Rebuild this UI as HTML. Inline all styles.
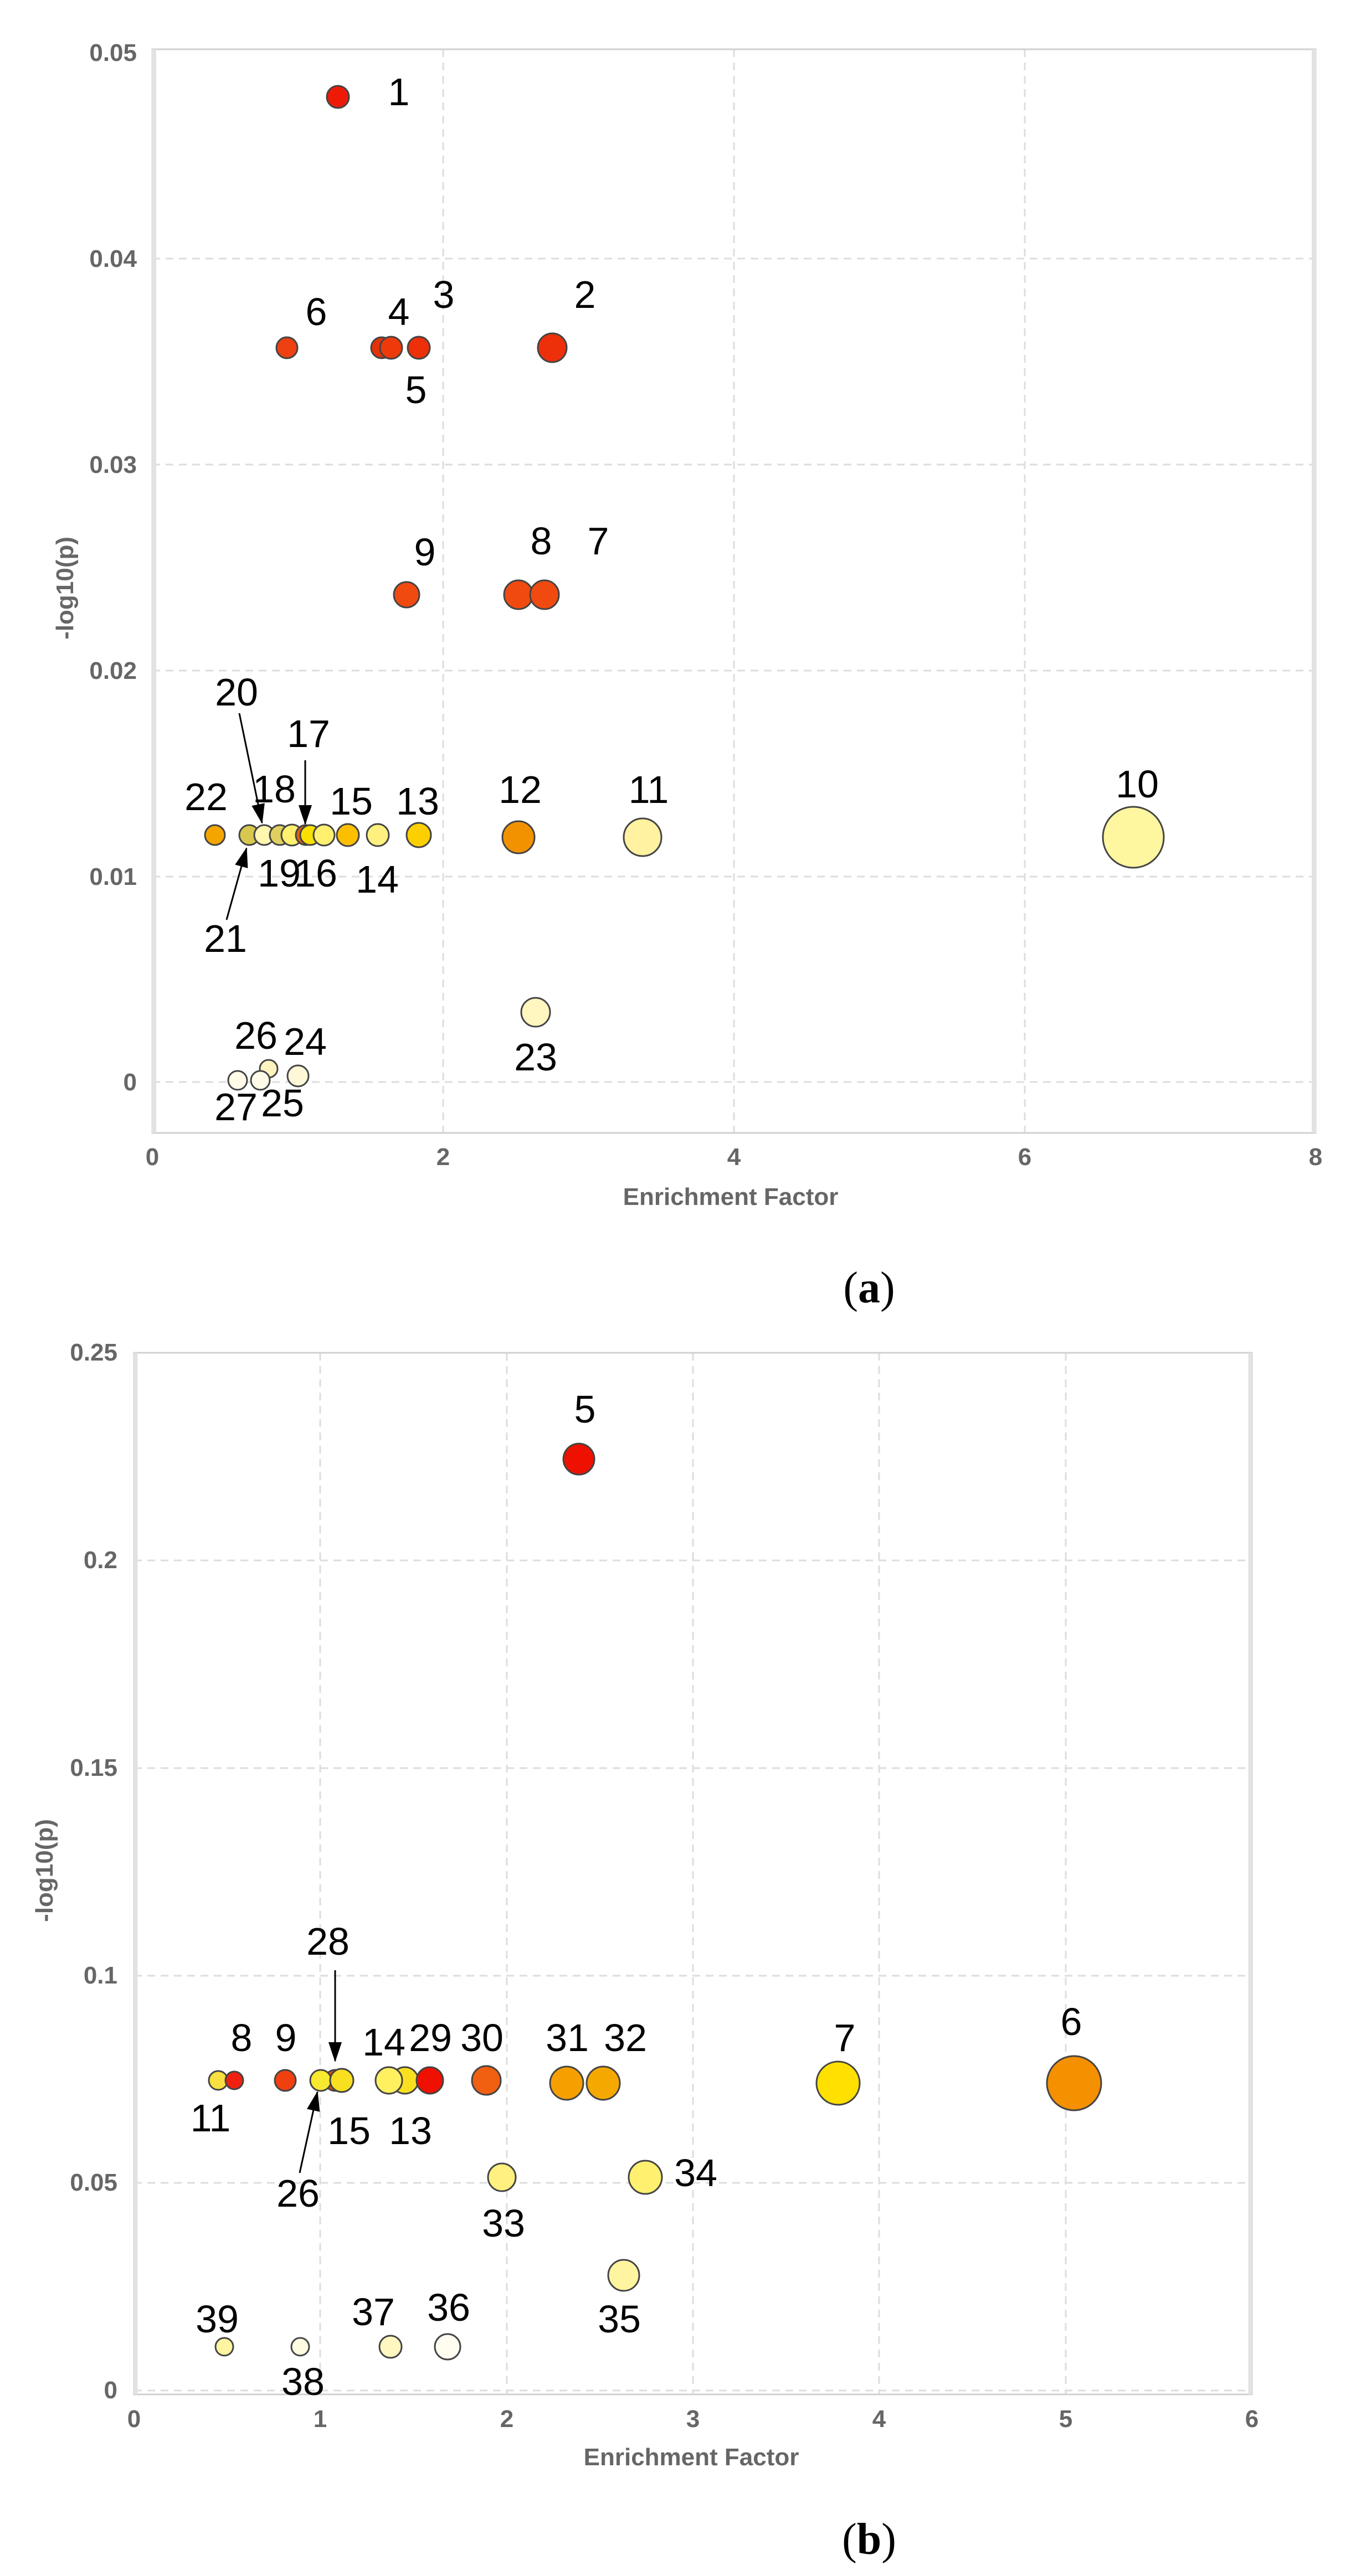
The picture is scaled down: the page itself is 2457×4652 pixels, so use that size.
<!DOCTYPE html>
<html><head><meta charset="utf-8"><style>
html,body{margin:0;padding:0;background:#fff;}
svg{display:block;}
.t{font-family:"Liberation Sans",sans-serif;font-size:44px;font-weight:bold;fill:#666;}
.l{font-family:"Liberation Sans",sans-serif;font-size:70px;fill:#000;}
.c{stroke:#444;stroke-width:3;}
.g{stroke:#ddd;stroke-width:3;stroke-dasharray:14,10;fill:none;}
</style></head><body>
<svg width="2457" height="4652" viewBox="0 0 2457 4652" xmlns="http://www.w3.org/2000/svg">
<defs><marker id="ah" markerWidth="10" markerHeight="10" refX="8" refY="5" orient="auto" markerUnits="userSpaceOnUse" viewBox="0 0 10 10"><path d="M0,0 L10,5 L0,10 z" fill="#000"/></marker>
<marker id="a2" markerWidth="36" markerHeight="36" refX="34" refY="18" orient="auto" markerUnits="userSpaceOnUse"><path d="M0,6 L36,18 L0,30 z" fill="#000"/></marker></defs>
<rect width="2457" height="4652" fill="#fff"/>

<!-- Chart A -->
<g>
<line class="g" x1="800" y1="89" x2="800" y2="2046"/>
<line class="g" x1="1325" y1="89" x2="1325" y2="2046"/>
<line class="g" x1="1850" y1="89" x2="1850" y2="2046"/>
<line class="g" x1="275" y1="467" x2="2375" y2="467"/>
<line class="g" x1="275" y1="839" x2="2375" y2="839"/>
<line class="g" x1="275" y1="1211" x2="2375" y2="1211"/>
<line class="g" x1="275" y1="1583" x2="2375" y2="1583"/>
<line class="g" x1="275" y1="1954" x2="2375" y2="1954"/>
<rect x="275" y="89" width="2100" height="1957" fill="none" stroke="#d0d0d0" stroke-width="3"/>
<line x1="278" y1="89" x2="278" y2="2046" stroke="#e2e2e2" stroke-width="8"/>
<line x1="2372" y1="89" x2="2372" y2="2046" stroke="#e2e2e2" stroke-width="8"/>
<g class="t" text-anchor="end">
<text x="247" y="110">0.05</text><text x="247" y="482">0.04</text><text x="247" y="854">0.03</text>
<text x="247" y="1226">0.02</text><text x="247" y="1598">0.01</text><text x="247" y="1969">0</text></g>
<g class="t" text-anchor="middle">
<text x="275" y="2104">0</text><text x="800" y="2104">2</text><text x="1325" y="2104">4</text><text x="1850" y="2104">6</text><text x="2375" y="2104">8</text>
<text x="1319" y="2176">Enrichment Factor</text>
<text transform="translate(132,1062) rotate(-90)">-log10(p)</text></g>

<g class="c">
<circle cx="610" cy="175" r="20" fill="#ee1a08"/>
<circle cx="518" cy="628" r="19" fill="#ee4010"/>
<circle cx="689" cy="628" r="19" fill="#e83008"/>
<circle cx="706" cy="628" r="20" fill="#ee3a0a"/>
<circle cx="756" cy="628" r="20" fill="#ee300a"/>
<circle cx="997" cy="628" r="26" fill="#ee300a"/>
<circle cx="734" cy="1074" r="23" fill="#f04a10"/>
<circle cx="936" cy="1074" r="26" fill="#f04a10"/>
<circle cx="983" cy="1074" r="26" fill="#f04a10"/>
<circle cx="388" cy="1508" r="18" fill="#f5a500"/>
<circle cx="450" cy="1508" r="18" fill="#d8c850"/>
<circle cx="477" cy="1508" r="18" fill="#fff6b0"/>
<circle cx="505" cy="1508" r="18" fill="#e0d060"/>
<circle cx="527" cy="1508" r="19" fill="#fff070"/>
<circle cx="552" cy="1508" r="18" fill="#e06010"/>
<circle cx="560" cy="1508" r="18" fill="#f8e000"/>
<circle cx="585" cy="1508" r="19" fill="#fff070"/>
<circle cx="628" cy="1508" r="20" fill="#fcbf00"/>
<circle cx="682" cy="1508" r="20" fill="#fff080"/>
<circle cx="756" cy="1508" r="22" fill="#fcd000"/>
<circle cx="936" cy="1512" r="29" fill="#f39200"/>
<circle cx="1160" cy="1512" r="34" fill="#fff2a0"/>
<circle cx="2046" cy="1512" r="55" fill="#fff6a0"/>
<circle cx="967" cy="1828" r="26" fill="#fff6c0"/>
<circle cx="429" cy="1951" r="17" fill="#fffbe8"/>
<circle cx="485" cy="1930" r="16" fill="#fff4c0"/>
<circle cx="470" cy="1951" r="17" fill="#fffbe8"/>
<circle cx="538" cy="1943" r="19" fill="#fff8d8"/>
</g>
<g class="l" text-anchor="middle" dominant-baseline="central">
<text x="720" y="166">1</text><text x="571" y="563">6</text><text x="720" y="563">4</text><text x="801" y="532">3</text>
<text x="751" y="704">5</text><text x="1056" y="532">2</text><text x="767" y="997">9</text><text x="977" y="977">8</text>
<text x="1080" y="977">7</text><text x="372" y="1439">22</text><text x="427" y="1250">20</text><text x="495" y="1425">18</text>
<text x="557" y="1325">17</text><text x="634" y="1447">15</text><text x="754" y="1447">13</text><text x="939" y="1426">12</text>
<text x="1171" y="1426">11</text><text x="2053" y="1416">10</text><text x="504" y="1577">19</text><text x="570" y="1577">16</text>
<text x="681" y="1588">14</text><text x="407" y="1695">21</text><text x="967" y="1909">23</text><text x="462" y="1870">26</text>
<text x="551" y="1881">24</text><text x="426" y="1999">27</text><text x="510" y="1992">25</text></g>
<g stroke="#000" stroke-width="3">
<line x1="432" y1="1288" x2="473" y2="1486" marker-end="url(#a2)"/>
<line x1="551" y1="1373" x2="551" y2="1488" marker-end="url(#a2)"/>
<line x1="409" y1="1661" x2="445" y2="1532" marker-end="url(#a2)"/>
</g>
<text x="1569" y="2352" text-anchor="middle" font-family="Liberation Serif,serif" font-size="80">(<tspan font-weight="bold">a</tspan>)</text>
</g>

<!-- Chart B -->
<g>
<line class="g" x1="578" y1="2443" x2="578" y2="4324"/>
<line class="g" x1="915" y1="2443" x2="915" y2="4324"/>
<line class="g" x1="1251" y1="2443" x2="1251" y2="4324"/>
<line class="g" x1="1587" y1="2443" x2="1587" y2="4324"/>
<line class="g" x1="1924" y1="2443" x2="1924" y2="4324"/>
<line class="g" x1="242" y1="2818" x2="2260" y2="2818"/>
<line class="g" x1="242" y1="3193" x2="2260" y2="3193"/>
<line class="g" x1="242" y1="3568" x2="2260" y2="3568"/>
<line class="g" x1="242" y1="3942" x2="2260" y2="3942"/>
<line class="g" x1="242" y1="4317" x2="2260" y2="4317"/>
<rect x="242" y="2443" width="2018" height="1881" fill="none" stroke="#d0d0d0" stroke-width="3"/>
<line x1="245" y1="2443" x2="245" y2="4324" stroke="#e2e2e2" stroke-width="7"/>
<line x1="2257" y1="2443" x2="2257" y2="4324" stroke="#e2e2e2" stroke-width="7"/>
<g class="t" text-anchor="end">
<text x="212" y="2457">0.25</text><text x="212" y="2832">0.2</text><text x="212" y="3207">0.15</text>
<text x="212" y="3582">0.1</text><text x="212" y="3956">0.05</text><text x="212" y="4331">0</text></g>
<g class="t" text-anchor="middle">
<text x="242" y="4383">0</text><text x="578" y="4383">1</text><text x="915" y="4383">2</text><text x="1251" y="4383">3</text>
<text x="1587" y="4383">4</text><text x="1924" y="4383">5</text><text x="2260" y="4383">6</text>
<text x="1248" y="4452">Enrichment Factor</text>
<text transform="translate(95,3378) rotate(-90)">-log10(p)</text></g>
<g class="c">
<circle cx="1045" cy="2635" r="28" fill="#ee1000"/>
<circle cx="394" cy="3757" r="17" fill="#f8e040"/>
<circle cx="423" cy="3757" r="16" fill="#f02010"/>
<circle cx="515" cy="3757" r="19" fill="#f04010"/>
<circle cx="605" cy="3757" r="19" fill="#e05010"/>
<circle cx="579" cy="3757" r="19" fill="#f8e830"/>
<circle cx="617" cy="3757" r="21" fill="#f8e020"/>
<circle cx="731" cy="3757" r="24" fill="#f8e020"/>
<circle cx="702" cy="3757" r="24" fill="#fff060"/>
<circle cx="776" cy="3757" r="24" fill="#f01000"/>
<circle cx="878" cy="3757" r="26" fill="#f06010"/>
<circle cx="1023" cy="3762" r="30" fill="#f5a000"/>
<circle cx="1089" cy="3762" r="30" fill="#f5a800"/>
<circle cx="1513" cy="3762" r="39" fill="#ffe000"/>
<circle cx="1939" cy="3762" r="49" fill="#f59000"/>
<circle cx="906" cy="3932" r="25" fill="#fff080"/>
<circle cx="1165" cy="3932" r="30" fill="#fff070"/>
<circle cx="1126" cy="4109" r="28" fill="#fff4a0"/>
<circle cx="405" cy="4238" r="16" fill="#fff4a0"/>
<circle cx="542" cy="4238" r="16" fill="#fffbe0"/>
<circle cx="705" cy="4238" r="20" fill="#fff6c0"/>
<circle cx="808" cy="4238" r="23" fill="#fffdf0"/>
</g>
<g class="l" text-anchor="middle" dominant-baseline="central">
<text x="1056" y="2545">5</text><text x="436" y="3680">8</text><text x="516" y="3680">9</text><text x="592" y="3506">28</text>
<text x="693" y="3688">14</text><text x="777" y="3680">29</text><text x="870" y="3680">30</text><text x="1024" y="3680">31</text>
<text x="1129" y="3680">32</text><text x="1525" y="3680">7</text><text x="1934" y="3651">6</text><text x="380" y="3825">11</text>
<text x="630" y="3848">15</text><text x="741" y="3848">13</text><text x="538" y="3961">26</text><text x="909" y="4015">33</text>
<text x="1256" y="3924">34</text><text x="1118" y="4188">35</text><text x="392" y="4188">39</text><text x="547" y="4301">38</text>
<text x="674" y="4175">37</text><text x="810" y="4167">36</text></g>
<g stroke="#000" stroke-width="3">
<line x1="605" y1="3558" x2="605" y2="3722" marker-end="url(#a2)"/>
<line x1="541" y1="3924" x2="573" y2="3778" marker-end="url(#a2)"/>
</g>
<text x="1569" y="4612" text-anchor="middle" font-family="Liberation Serif,serif" font-size="80">(<tspan font-weight="bold">b</tspan>)</text>
</g>
</svg>
</body></html>
